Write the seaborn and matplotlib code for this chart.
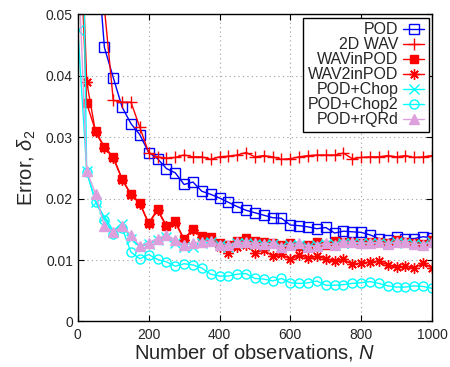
import matplotlib
matplotlib.use("Agg")
import matplotlib.pyplot as plt
import seaborn as sns

# number of observations
N = [0, 25, 50, 75, 100, 125, 150, 175, 200, 225, 250, 275, 300, 325, 350,
     375, 400, 425, 450, 475, 500, 525, 550, 575, 600, 625, 650, 675, 700,
     725, 750, 775, 800, 825, 850, 875, 900, 925, 950, 975, 1000]

pod = [0.2, 0.1, 0.063, 0.0446, 0.0397, 0.0349, 0.0322, 0.0304, 0.0275, 0.0265,
       0.0249, 0.0242, 0.0223, 0.0227, 0.0212, 0.0207, 0.0201, 0.0194, 0.0187,
       0.0181, 0.0177, 0.0173, 0.0169, 0.0168, 0.0157, 0.0156, 0.0154, 0.0151,
       0.0153, 0.0144, 0.0147, 0.0146, 0.0145, 0.0141, 0.0135, 0.0133, 0.0138,
       0.0135, 0.0135, 0.0138, 0.0136]

wav2d = [0.15, 0.1, 0.075, 0.051, 0.036, 0.0357, 0.0357, 0.0316, 0.0275, 0.0268,
         0.0266, 0.0267, 0.0271, 0.0268, 0.0268, 0.0264, 0.0268, 0.0269, 0.0271,
         0.0275, 0.0268, 0.027, 0.0268, 0.0264, 0.0265, 0.0268, 0.027, 0.0271,
         0.0271, 0.0271, 0.0274, 0.0265, 0.0267, 0.0268, 0.0268, 0.027, 0.0268,
         0.027, 0.0267, 0.0268, 0.027]

wavinpod = [0.072, 0.0355, 0.031, 0.0284, 0.0268, 0.0232, 0.0207, 0.0193, 0.016,
            0.0183, 0.0156, 0.0163, 0.0134, 0.0151, 0.0139, 0.0137, 0.0127, 0.0125,
            0.0131, 0.0136, 0.0131, 0.0129, 0.0128, 0.0125, 0.0127, 0.0123, 0.0124,
            0.0129, 0.0125, 0.0131, 0.013, 0.0129, 0.0128, 0.013, 0.013, 0.0127,
            0.0132, 0.013, 0.0128, 0.0126, 0.0132]

wav2inpod = [0.08, 0.039, 0.0308, 0.0283, 0.0266, 0.0231, 0.0206, 0.0192, 0.0159,
             0.0181, 0.0155, 0.0161, 0.0133, 0.0149, 0.0137, 0.0133, 0.0122, 0.0112,
             0.0121, 0.0125, 0.0111, 0.0117, 0.0106, 0.011, 0.0101, 0.0108, 0.0103,
             0.0106, 0.0102, 0.0098, 0.0101, 0.0093, 0.0095, 0.0097, 0.0098, 0.0092,
             0.0088, 0.009, 0.0087, 0.0095, 0.0087]

pod_chop = [0.0475, 0.0245, 0.0195, 0.017, 0.0148, 0.0158, 0.0135, 0.0122, 0.0126,
            0.0133, 0.0138, 0.0127, 0.0121, 0.0122, 0.0127, 0.0129, 0.0125, 0.0122,
            0.0127, 0.0128, 0.0126, 0.0125, 0.0126, 0.0122, 0.0124, 0.0125, 0.0122,
            0.0124, 0.0126, 0.0126, 0.0128, 0.0127, 0.0127, 0.0127, 0.0128, 0.0126,
            0.0129, 0.0128, 0.0126, 0.0125, 0.0129]

pod_chop2 = [0.12, 0.0243, 0.0195, 0.0166, 0.0143, 0.0152, 0.0113, 0.0102, 0.0109,
             0.0101, 0.0097, 0.009, 0.0094, 0.0092, 0.0087, 0.0077, 0.0074, 0.0074,
             0.0077, 0.0078, 0.007, 0.0069, 0.0066, 0.007, 0.0063, 0.0062, 0.0063,
             0.0066, 0.0059, 0.0059, 0.006, 0.0062, 0.0063, 0.0065, 0.0062, 0.0058,
             0.0056, 0.0056, 0.0058, 0.0057, 0.0054]

pod_rqrd = [0.06, 0.0245, 0.0208, 0.0155, 0.0146, 0.0155, 0.0141, 0.0123, 0.0128,
            0.0135, 0.0141, 0.0133, 0.0125, 0.0128, 0.013, 0.0131, 0.0124, 0.0124,
            0.0129, 0.0129, 0.0127, 0.0126, 0.0127, 0.0122, 0.0125, 0.0127, 0.0122,
            0.0123, 0.0128, 0.0125, 0.013, 0.0129, 0.0128, 0.0128, 0.0129, 0.0126,
            0.013, 0.0129, 0.0126, 0.0125, 0.013]

sns.set_style("ticks")
plt.rcParams['font.family'] = ['Liberation Sans', 'DejaVu Sans']
plt.rcParams['mathtext.fontset'] = 'custom'
plt.rcParams['mathtext.rm'] = 'Liberation Sans'
plt.rcParams['mathtext.it'] = 'Liberation Sans:italic'

fig = plt.figure(figsize=(4.5, 3.67), dpi=100)
ax = fig.add_axes([0.173, 0.124, 0.787, 0.837])

# label, values, colour, marker, size, filled
series = [
    ("POD", pod, "#0000ff", "s", 6.5, False),
    ("2D WAV", wav2d, "#ff0000", "+", 8, True),
    ("WAVinPOD", wavinpod, "#ff0000", "s", 6, True),
    ("WAV2inPOD", wav2inpod, "#ff0000", (8, 2, 0), 7.5, True),
    ("POD+Chop", pod_chop, "#00ffff", "x", 6.5, True),
    ("POD+Chop2", pod_chop2, "#00ffff", "o", 6.5, False),
    ("POD+rQRd", pod_rqrd, "#dda0dd", "^", 6.5, True),
]

for label, vals, color, marker, ms, filled in series:
    sns.lineplot(x=N, y=vals, ax=ax, color=color, marker=marker, markersize=ms,
                 markerfacecolor=color if filled else "none",
                 markeredgecolor=color, markeredgewidth=1.0, linewidth=1.0,
                 label=label)

ax.set_xlim(0, 1000)
ax.set_ylim(0, 0.05)
ax.set_xticks([0, 200, 400, 600, 800, 1000])
ax.set_yticks([0, 0.01, 0.02, 0.03, 0.04, 0.05])
ax.set_yticklabels(["0", "0.01", "0.02", "0.03", "0.04", "0.05"])
ax.grid(True, linestyle=(0, (1, 3)), color="#a0a0a0", linewidth=0.8)
ax.tick_params(direction="in", top=True, right=True, length=4, labelsize=10,
               color="black")
ax.tick_params(axis="x", pad=5)
for s in ax.spines.values():
    s.set_linewidth(1.0)
    s.set_color("black")

ax.set_xlabel("Number of observations, $N$", fontsize=14.5, labelpad=0)
ax.set_ylabel("Error, $\\delta_2$", fontsize=14.5, labelpad=6)

leg = ax.legend(loc="upper right", markerfirst=False, frameon=True, fancybox=False,
                edgecolor="black", framealpha=1, fontsize=11.5, handlelength=1.3,
                labelspacing=0.0, borderaxespad=0.2, borderpad=0.3,
                handletextpad=0.3)
leg.get_frame().set_linewidth(1.0)

fig.savefig("out.png", dpi=100)
